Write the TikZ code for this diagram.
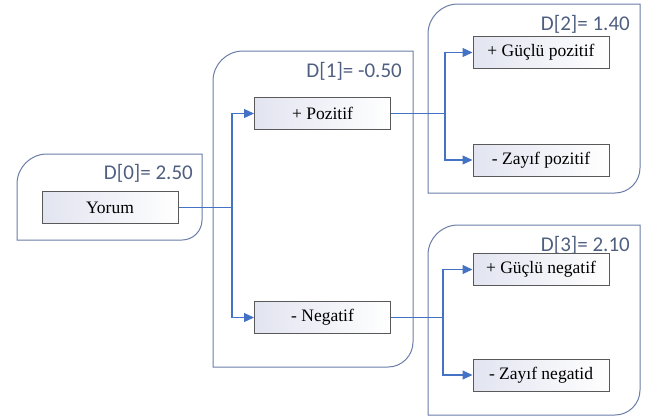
\documentclass[tikz,border=0pt]{standalone}
\usepackage{fontspec}
\setmainfont{Liberation Serif}
\newfontfamily\labfont{Carlito}
\usetikzlibrary{arrows.meta}
\definecolor{frame}{HTML}{6A7DA6}
\definecolor{labc}{HTML}{4F5F80}
\definecolor{link}{HTML}{4472C4}
\definecolor{boxl}{HTML}{E2E4F0}
\tikzset{
  grp/.style={draw=frame, line width=1pt},
  lab/.style={font=\labfont\fontsize{21}{21}\selectfont, text=labc, anchor=east, inner sep=0pt},
  item/.style={draw=black!65, line width=1pt, left color=boxl, right color=white,
     minimum width=136pt, minimum height=32pt, inner sep=0pt,
     font=\fontsize{17.5}{17.5}\selectfont},
  conn/.style={draw=link, line width=1.1pt},
  arr/.style={conn, -{Triangle[length=10pt,width=9pt]}},
}
\begin{document}
\begin{tikzpicture}[x=1pt,y=-1pt]
\useasboundingbox (0,0) rectangle (657,416);
% containers: rounded top-left and bottom-right
\draw[grp] (17,240) -- (17,184) arc[start angle=180,end angle=270,radius=30] -- (202,154) -- (202,220) arc[start angle=0,end angle=90,radius=20] -- cycle;
\draw[grp] (213,367) -- (213,81) arc[start angle=180,end angle=270,radius=30] -- (413,51) -- (413,342) arc[start angle=0,end angle=90,radius=25] -- cycle;
\draw[grp] (428,193) -- (428,34) arc[start angle=180,end angle=270,radius=30] -- (640,4) -- (640,168) arc[start angle=0,end angle=90,radius=25] -- cycle;
\draw[grp] (428,415) -- (428,255) arc[start angle=180,end angle=270,radius=30] -- (640,225) -- (640,390) arc[start angle=0,end angle=90,radius=25] -- cycle;
% labels
\node[lab] (l0) at (193,173) {D[0]= 2.50};
\node[lab] (l1) at (402,71) {D[1]= -0.50};
\node[lab] (l2) at (630,24) {D[2]= 1.40};
\node[lab] (l3) at (630,245) {D[3]= 2.10};
% items
\node[item] (yorum) at (110,207.5) {Yorum};
\node[item] (poz) at (322.5,113.5) {+ Pozitif};
\node[item] (neg) at (322.5,317.5) {- Negatif};
\node[item] (gp) at (541,52.5) {+ Güçlü pozitif};
\node[item] (zp) at (541,160) {- Zayıf pozitif};
\node[item] (gn) at (541,269.5) {+ Güçlü negatif};
\node[item] (zn) at (541,375) {- Zayıf negatid};
% connectors
\coordinate (j0) at (232,207.5);
\coordinate (j1) at (445,113.5);
\coordinate (j2) at (443,317.5);
\draw[conn] (yorum.east) -- (j0);
\draw[arr] (j0) |- (poz.west);
\draw[arr] (j0) |- (neg.west);
\draw[conn] (poz.east) -- (j1);
\draw[arr] (j1) |- (gp.west);
\draw[arr] (j1) |- (zp.west);
\draw[conn] (neg.east) -- (j2);
\draw[arr] (j2) |- (gn.west);
\draw[arr] (j2) |- (zn.west);
\end{tikzpicture}
\end{document}
